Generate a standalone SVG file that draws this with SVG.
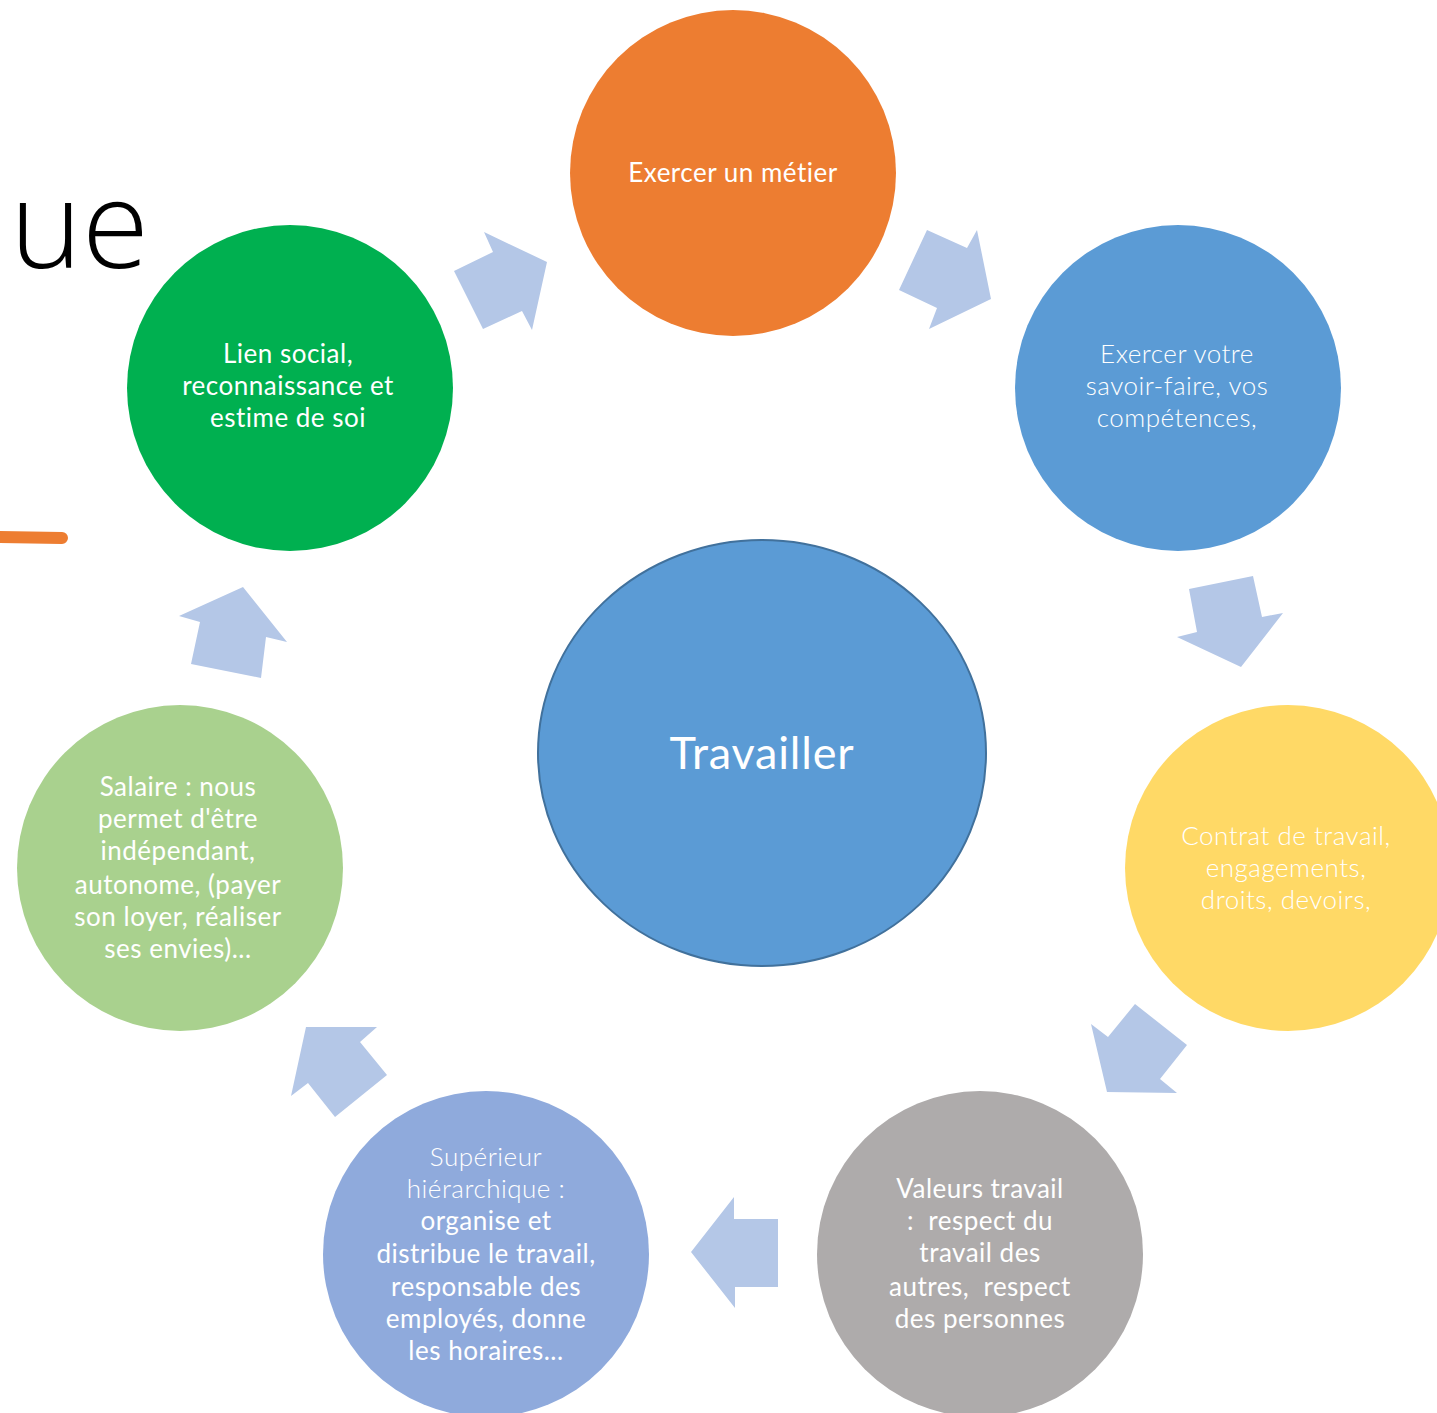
<svg xmlns="http://www.w3.org/2000/svg" width="1437" height="1413" viewBox="0 0 1437 1413">
<style>
.t{font-family:Lato,"Open Sans",sans-serif;font-size:26px;letter-spacing:0.5px;fill:#fff;text-anchor:middle;white-space:pre}
.l{font-weight:300}
.arr{fill:#B4C7E7}
</style>
<rect width="1437" height="1413" fill="#fff"/>
<text x="10" y="268" style="font-family:'Open Sans',sans-serif;font-weight:300;font-size:122px;fill:#000">ue</text>
<line x1="0" y1="537" x2="62" y2="538" stroke="#ED7D31" stroke-width="12" stroke-linecap="round"/>
<g id="connectors">
<polygon class="arr" points="484,232 493,252 454,271 483,329 522,311 532,330 547,262"/>
<polygon class="arr" points="927,230 967,248 977,230 991,299 929,329 937,308 899,290"/>
<polygon class="arr" points="1189,589 1253,576 1262,617 1283,613 1241,667 1177,637 1197,632"/>
<polygon class="arr" points="1135,1004 1187,1045 1160,1079 1177,1093 1107,1092 1091,1024 1108,1037"/>
<polygon class="arr" points="734,1197 734,1219 778,1219 778,1287 735,1287 735,1308 691,1252"/>
<polygon class="arr" points="306,1027 377,1027 360,1042 387,1075 335,1117 308,1083 291,1096"/>
<polygon class="arr" points="243,587 287,642 266,637 261,678 191,664 200,622 179,616"/>
</g>
<g id="center">
<ellipse cx="762" cy="753" rx="224" ry="213" fill="#5B9BD5" stroke="#41719C" stroke-width="2"/>
<text class="t" x="762" y="769" style="font-size:45px;letter-spacing:0.8px">Travailler</text>
</g>
<g id="metier">
<circle cx="733" cy="173" r="163" fill="#ED7D31"/>
<text class="t" x="733" y="182">Exercer un métier</text>
</g>
<g id="savoir">
<circle cx="1178" cy="388" r="163" fill="#5B9BD5"/>
<text class="t l"><tspan x="1177" y="363">Exercer votre</tspan><tspan x="1177" y="395">savoir-faire, vos</tspan><tspan x="1177" y="427">compétences,</tspan></text>
</g>
<g id="contrat">
<circle cx="1288" cy="868" r="163" fill="#FFD966"/>
<text class="t l"><tspan x="1286" y="845">Contrat de travail,</tspan><tspan x="1286" y="877">engagements,</tspan><tspan x="1286" y="909">droits, devoirs,</tspan></text>
</g>
<g id="valeurs">
<circle cx="980" cy="1254" r="163" fill="#AEABAB"/>
<text class="t"><tspan x="980" y="1198">Valeurs travail</tspan><tspan x="980" y="1230">:  respect du</tspan><tspan x="980" y="1262">travail des</tspan><tspan x="980" y="1296">autres,  respect</tspan><tspan x="980" y="1328">des personnes</tspan></text>
</g>
<g id="superieur">
<circle cx="486" cy="1254" r="163" fill="#8FAADC"/>
<text class="t"><tspan class="l" x="486" y="1166">Supérieur</tspan><tspan class="l" x="486" y="1198">hiérarchique :</tspan><tspan x="486" y="1230">organise et</tspan><tspan x="486" y="1263">distribue le travail,</tspan><tspan x="486" y="1296">responsable des</tspan><tspan x="486" y="1328">employés, donne</tspan><tspan x="486" y="1360">les horaires...</tspan></text>
</g>
<g id="salaire">
<circle cx="180" cy="868" r="163" fill="#A9D18E"/>
<text class="t"><tspan x="178" y="796">Salaire : nous</tspan><tspan x="178" y="828">permet d'être</tspan><tspan x="178" y="860">indépendant,</tspan><tspan x="178" y="894">autonome, (payer</tspan><tspan x="178" y="926">son loyer, réaliser</tspan><tspan x="178" y="958">ses envies)...</tspan></text>
</g>
<g id="lien">
<circle cx="290" cy="388" r="163" fill="#00B050"/>
<text class="t"><tspan x="288" y="363">Lien social,</tspan><tspan x="288" y="395">reconnaissance et</tspan><tspan x="288" y="427">estime de soi</tspan></text>
</g>
</svg>
